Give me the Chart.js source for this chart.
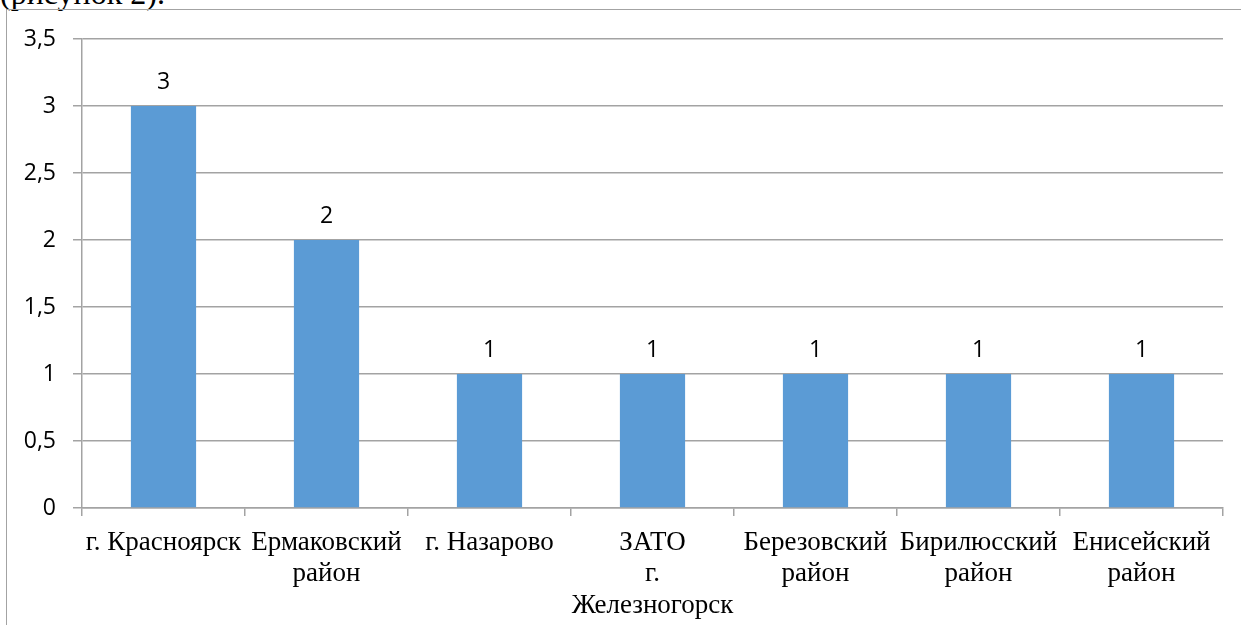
<!DOCTYPE html>
<html>
<head>
<meta charset="utf-8">
<script src="https://cdn.jsdelivr.net/npm/chart.js@4/dist/chart.umd.min.js"></script>
<style>
  html, body { margin: 0; padding: 0; background: #fff; }
  #wrap { position: relative; width: 1241px; height: 625px; overflow: hidden; background: #fff; }
  #caption { position: absolute; left: 0; top: -23px; font: 32px "Liberation Serif", "Times New Roman", serif; color: #000; white-space: nowrap; line-height: 1; }
  #frame { position: absolute; left: 6px; top: 9px; width: 1300px; height: 700px; border-left: 1.5px solid #a3a3a3; border-top: 1.5px solid #a3a3a3; }
  #chartBox { position: absolute; left: 0; top: 0; width: 1241px; height: 625px; }
</style>
</head>
<body>
<div id="wrap">
  <div id="caption">(рисунок 2).</div>
  <div id="frame"></div>
  <div id="chartBox"><canvas id="c" width="1241" height="625"></canvas></div>
</div>
<script>
// Number of cases by territory
const categories = [
  ['г. Красноярск'],
  ['Ермаковский', 'район'],
  ['г. Назарово'],
  ['ЗАТО', 'г.', 'Железногорск'],
  ['Березовский', 'район'],
  ['Бирилюсский', 'район'],
  ['Енисейский', 'район']
];
const values = [3, 2, 1, 1, 1, 1, 1];
const yTicks = [0, 0.5, 1, 1.5, 2, 2.5, 3, 3.5];

const fmt = v => String(v).replace('.', ',');

// Value labels above each bar
const valueLabels = {
  id: 'valueLabels',
  afterDatasetsDraw(chart) {
    const ctx = chart.ctx;
    const meta = chart.getDatasetMeta(0);
    ctx.save();
    ctx.font = '23px "Open Sans", sans-serif';
    ctx.fillStyle = '#000';
    ctx.textAlign = 'center';
    ctx.textBaseline = 'middle';
    meta.data.forEach((bar, i) => {
      ctx.fillText(fmt(chart.data.datasets[0].data[i]), bar.x, bar.y - 24);
    });
    ctx.restore();
  }
};

new Chart(document.getElementById('c'), {
  type: 'bar',
  data: {
    labels: categories,
    datasets: [{
      data: values,
      backgroundColor: '#5b9bd5',
      borderWidth: 0,
      barPercentage: 0.4,
      categoryPercentage: 1
    }]
  },
  options: {
    responsive: false,
    animation: false,
    devicePixelRatio: 1,
    layout: { padding: { left: 0, right: 18, top: 39, bottom: 0 } },
    plugins: { legend: { display: false }, tooltip: { enabled: false } },
    scales: {
      x: {
        afterFit(scale) { scale.height = 117; },
        grid: {
          display: true,
          drawOnChartArea: false,
          drawTicks: true,
          tickLength: 8,
          color: '#a3a3a3',
          lineWidth: 1.5,
          offset: true
        },
        border: { color: '#a3a3a3', width: 1.5 },
        ticks: {
          color: '#000',
          font: { family: '"Liberation Serif", "Times New Roman", serif', size: 27, lineHeight: 1.17 },
          maxRotation: 0,
          autoSkip: false,
          padding: 11
        }
      },
      y: {
        min: 0,
        max: 3.5,
        afterFit(scale) { scale.width = 82; },
        afterBuildTicks(scale) { scale.ticks = yTicks.map(v => ({ value: v })); },
        grid: {
          color: '#a3a3a3',
          lineWidth: 1.5,
          drawTicks: true,
          tickLength: 9
        },
        border: { color: '#a3a3a3', width: 1.5 },
        ticks: {
          color: '#000',
          font: { family: '"Open Sans", sans-serif', size: 23 },
          padding: 17,
          callback: v => fmt(v)
        }
      }
    }
  },
  plugins: [valueLabels]
});
</script>
</body>
</html>
